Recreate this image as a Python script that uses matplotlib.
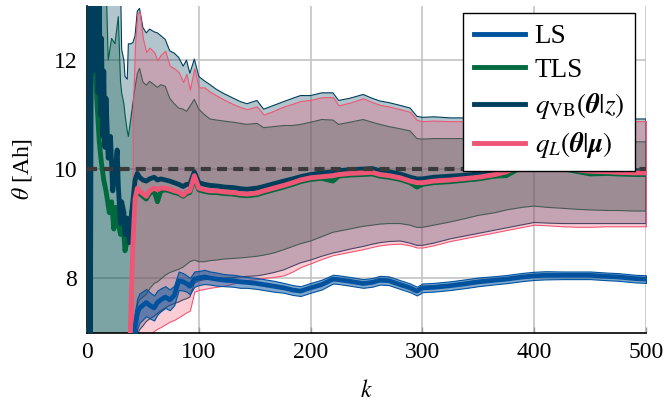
import numpy as np
import matplotlib
matplotlib.use("Agg")
import matplotlib.pyplot as plt
from matplotlib.lines import Line2D

plt.rcParams['font.family'] = ['Liberation Serif', 'DejaVu Serif']
plt.rcParams['mathtext.fontset'] = 'stix'
plt.rcParams['font.size'] = 17

c_ls = '#00529f'
c_tls = '#00693e'
c_vb = '#003f5c'
c_l = '#ef5675'

# shared grid for k >= 41
k_late = [41, 43, 45, 47, 50, 53, 56, 60, 63, 66, 70, 74, 78, 82, 86, 89, 92, 96, 100, 105,
          110, 116, 123, 131, 137, 143, 152, 158, 167, 176, 184, 191, 200, 210, 220, 225, 235, 247, 255, 262,
          270, 280, 289, 295, 300, 310, 325, 340, 350, 365, 375, 390, 400, 410, 425, 440, 450, 465, 475, 490, 500]

vb_hi = [12.32, 12.45, 12.9, 12.95, 12.6, 12.5, 12.57, 12.52, 12.5, 12.45, 12.38, 12.17, 12.13, 12.05, 11.89, 12.0, 11.76, 12.02, 11.7, 11.62,
         11.55, 11.46, 11.38, 11.3, 11.24, 11.2, 11.26, 11.1, 11.17, 11.24, 11.3, 11.35, 11.35, 11.4, 11.4, 11.26, 11.3, 11.37, 11.3, 11.25,
         11.22, 11.17, 11.12, 10.97, 10.95, 10.96, 10.94, 10.94, 10.95, 10.96, 10.98, 11.0, 11.02, 11.0, 10.97, 10.95, 10.94, 10.93, 10.93, 10.92, 10.92]
vb_lo = [6.5, 6.8, 6.95, 7.05, 7.12, 7.2, 7.25, 7.3, 7.35, 7.4, 7.45, 7.5, 7.53, 7.56, 7.6, 7.62, 7.65, 7.9, 7.95, 7.97,
         7.98, 8.0, 8.0, 8.01, 8.02, 8.03, 8.04, 8.06, 8.1, 8.15, 8.22, 8.28, 8.33, 8.4, 8.46, 8.48, 8.53, 8.58, 8.62, 8.65,
         8.67, 8.68, 8.64, 8.6, 8.6, 8.64, 8.72, 8.78, 8.82, 8.88, 8.92, 8.98, 9.02, 9.01, 9.0, 9.0, 9.0, 9.0, 9.0, 9.0, 9.0]
vb_mean = [9.4, 9.8, 9.92, 9.85, 9.8, 9.78, 9.82, 9.85, 9.8, 9.82, 9.8, 9.78, 9.75, 9.72, 9.68, 9.72, 9.72, 9.95, 9.75, 9.72,
           9.7, 9.69, 9.67, 9.66, 9.64, 9.63, 9.65, 9.68, 9.73, 9.78, 9.82, 9.86, 9.9, 9.93, 9.95, 9.97, 9.99, 10.0, 10.01, 9.97,
           9.95, 9.91, 9.85, 9.82, 9.82, 9.85, 9.87, 9.89, 9.91, 9.96, 10.01, 10.14, 10.18, 10.16, 10.11, 10.07, 10.05, 10.02, 10.0, 9.97, 9.96]

l_hi = [11.1, 12.3, 12.85, 12.9, 12.4, 12.15, 12.23, 12.15, 12.0, 12.1, 12.17, 11.9, 11.85, 11.78, 11.6, 11.75, 11.46, 11.85, 11.5, 11.5,
        11.42, 11.35, 11.27, 11.19, 11.14, 11.1, 11.15, 11.0, 11.07, 11.15, 11.2, 11.25, 11.27, 11.32, 11.32, 11.17, 11.22, 11.3, 11.23, 11.18,
        11.15, 11.1, 11.05, 10.9, 10.88, 10.89, 10.88, 10.88, 10.89, 10.9, 10.92, 10.94, 10.96, 10.94, 10.91, 10.89, 10.88, 10.88, 10.88, 10.88, 10.88]
l_lo = [6.0, 6.3, 6.5, 6.65, 6.8, 6.9, 6.95, 7.03, 7.07, 7.1, 7.15, 7.2, 7.23, 7.28, 7.33, 7.37, 7.4, 7.75, 7.78, 7.8,
        7.82, 7.84, 7.86, 7.9, 7.93, 7.96, 7.98, 8.0, 8.02, 8.05, 8.12, 8.2, 8.27, 8.35, 8.42, 8.44, 8.48, 8.53, 8.57, 8.6,
        8.62, 8.63, 8.6, 8.56, 8.56, 8.6, 8.68, 8.74, 8.78, 8.84, 8.88, 8.94, 8.98, 8.97, 8.95, 8.94, 8.94, 8.95, 8.95, 8.95, 8.95]
l_mean = [8.6, 9.45, 9.65, 9.6, 9.55, 9.5, 9.6, 9.65, 9.62, 9.65, 9.65, 9.63, 9.6, 9.58, 9.52, 9.58, 9.6, 9.88, 9.65, 9.62,
          9.6, 9.6, 9.58, 9.57, 9.55, 9.54, 9.56, 9.6, 9.65, 9.7, 9.75, 9.8, 9.84, 9.86, 9.88, 9.9, 9.92, 9.93, 9.94, 9.9,
          9.88, 9.84, 9.78, 9.75, 9.75, 9.78, 9.8, 9.83, 9.85, 9.9, 9.95, 10.08, 10.12, 10.1, 10.04, 9.98, 9.96, 9.95, 9.94, 9.93, 9.93]

tls_hi = [11.2, 11.5, 11.75, 11.85, 11.6, 11.54, 11.61, 11.55, 11.5, 11.55, 11.52, 11.3, 11.2, 11.12, 11.1, 11.06, 11.15, 11.28, 11.1, 11.0,
          10.92, 10.9, 10.88, 10.86, 10.84, 10.82, 10.84, 10.76, 10.78, 10.8, 10.8, 10.82, 10.86, 10.91, 10.9, 10.82, 10.86, 10.91, 10.86, 10.82,
          10.78, 10.74, 10.7, 10.56, 10.55, 10.56, 10.56, 10.56, 10.57, 10.59, 10.61, 10.63, 10.66, 10.63, 10.58, 10.55, 10.53, 10.52, 10.51, 10.5, 10.5]
tls_lo = [6.5, 7.2, 7.5, 7.6, 7.65, 7.7, 7.8, 7.9, 7.93, 7.98, 8.05, 8.1, 8.13, 8.16, 8.2, 8.25, 8.3, 8.33, 8.3, 8.3,
          8.32, 8.33, 8.35, 8.36, 8.37, 8.38, 8.4, 8.42, 8.46, 8.52, 8.58, 8.63, 8.68, 8.76, 8.84, 8.86, 8.9, 8.95, 8.97, 8.99,
          9.0, 9.0, 8.97, 8.93, 8.93, 8.97, 9.03, 9.1, 9.15, 9.2, 9.25, 9.3, 9.32, 9.3, 9.28, 9.26, 9.25, 9.24, 9.24, 9.23, 9.23]
tls_mean = [9.3, 9.5, 9.6, 9.55, 9.5, 9.45, 9.55, 9.6, 9.4, 9.6, 9.62, 9.6, 9.57, 9.55, 9.5, 9.55, 9.57, 9.84, 9.62, 9.59,
            9.57, 9.57, 9.55, 9.54, 9.52, 9.51, 9.53, 9.57, 9.62, 9.67, 9.72, 9.77, 9.81, 9.83, 9.78, 9.87, 9.89, 9.9, 9.91, 9.87,
            9.85, 9.81, 9.75, 9.67, 9.72, 9.75, 9.77, 9.8, 9.82, 9.87, 9.88, 10.05, 10.09, 10.07, 10.01, 9.95, 9.91, 9.92, 9.91, 9.9, 9.9]

ls_mean = [6.6, 7.1, 7.35, 7.45, 7.5, 7.55, 7.5, 7.45, 7.55, 7.6, 7.65, 7.6, 7.68, 7.95, 7.93, 7.9, 7.85, 7.98, 8.0, 8.02,
           8.0, 7.98, 7.96, 7.95, 7.93, 7.92, 7.9, 7.88, 7.85, 7.82, 7.78, 7.76, 7.82, 7.88, 7.98, 7.97, 7.94, 7.9, 7.92, 7.96,
           7.95, 7.88, 7.82, 7.76, 7.82, 7.83, 7.86, 7.9, 7.93, 7.96, 7.98, 8.02, 8.04, 8.05, 8.05, 8.05, 8.05, 8.03, 8.02, 7.99, 7.98]
ls_hw = [0.35, 0.3, 0.28, 0.27, 0.26, 0.25, 0.24, 0.23, 0.22, 0.21, 0.2, 0.19, 0.18, 0.17, 0.16, 0.15, 0.15, 0.14, 0.13, 0.13,
         0.12, 0.12, 0.11, 0.11, 0.11, 0.1, 0.1, 0.1, 0.1, 0.09, 0.09, 0.09, 0.09, 0.09, 0.08, 0.08, 0.08, 0.08, 0.08, 0.08,
         0.08, 0.08, 0.08, 0.08, 0.08, 0.08, 0.08, 0.08, 0.08, 0.075, 0.075, 0.075, 0.075, 0.075, 0.07, 0.07, 0.07, 0.07, 0.07, 0.07, 0.07]

# early part (k < 41), before q_L exists
k_eb = [0, 17, 19, 22, 25, 28, 30, 31, 33, 34, 36, 37, 39]
vb_hi_e = [13.5, 13.5, 13.5, 13.5, 13.5, 13.5, 13.5, 12.2, 12.0, 11.7, 11.65, 12.3, 12.3]
vb_lo_e = [6.0, 6.0, 6.0, 6.0, 6.0, 6.0, 6.0, 6.0, 6.0, 6.0, 6.0, 6.0, 6.0]
tls_hi_e = [13.5, 13.5, 12.0, 12.4, 12.3, 12.8, 11.6, 11.4, 11.2, 11.0, 10.7, 10.6, 10.9]
tls_lo_e = [6.0, 6.0, 6.0, 6.0, 6.0, 6.0, 6.0, 6.0, 6.0, 6.0, 6.0, 6.0, 6.0]

k_evb = [0, 1, 3, 4, 5, 6, 7, 8, 9, 10, 11, 12, 13, 14, 15, 16, 17, 19, 21, 23, 25, 27, 28, 30, 31, 33, 34, 36, 38, 40]
vb_mean_e = [6.2, 13.8, 6.5, 13.8, 13.6, 12.2, 13.5, 11.8, 13.4, 11.4, 13.2, 11.0, 12.4, 10.6, 11.8, 10.4, 11.3, 10.2, 10.6, 9.6, 9.9,
             10.35, 9.7, 9.0, 9.4, 9.2, 8.8, 9.1, 8.65, 9.2]
k_etls = [0, 2, 5, 7, 9, 11, 13, 15, 17, 20, 22, 24, 26, 28, 30, 32, 34, 36, 38, 40]
tls_mean_e = [14.0, 13.5, 12.3, 12.0, 11.2, 10.5, 10.1, 9.8, 9.6, 9.2, 9.4, 8.9, 9.3, 9.0, 8.8, 9.1, 8.5, 8.7, 8.8, 9.2]
k_els = [0, 1, 40]
ls_mean_e = [13.5, 5.0, 5.0]
k_el = [38, 40]
l_mean_e = [6.5, 7.9]

theta_true = 10.0

fig = plt.figure(figsize=(6.64, 4.05), dpi=100)
ax = fig.add_axes([0.131, 0.179, 0.842, 0.807])


def band(k, lo, hi, color, z):
    ax.fill_between(k, lo, hi, facecolor=matplotlib.colors.to_rgba(color, 0.3),
                    edgecolor=color, linewidth=0.8, zorder=z)


band(k_eb + k_late, tls_lo_e + tls_lo, tls_hi_e + tls_hi, c_tls, 1.0)
band(k_eb + k_late, vb_lo_e + vb_lo, vb_hi_e + vb_hi, c_vb, 1.1)
band(k_late, l_lo, l_hi, c_l, 1.2)

ls_m = np.array(ls_mean)
ls_w = np.array(ls_hw)
ax.fill_between(k_late, ls_m - ls_w, ls_m + ls_w, facecolor=matplotlib.colors.to_rgba(c_ls, 0.5),
                edgecolor=c_ls, linewidth=0.8, zorder=3)
ax.plot(k_els + k_late, ls_mean_e + ls_mean, color=c_ls, lw=3.4, zorder=3.1)
ax.plot(k_etls + k_late, tls_mean_e + tls_mean, color=c_tls, lw=3.5, zorder=3.2)
ax.plot(k_evb + k_late, vb_mean_e + vb_mean, color=c_vb, lw=3.5, zorder=3.3)
ax.plot(k_el + k_late, l_mean_e + l_mean, color=c_l, lw=3.5, zorder=3.4)

ax.axhline(theta_true, color='#3a3a3a', lw=3, ls=(0, (2.4, 1.5)), zorder=4)

ax.set_xlim(0, 500)
ax.set_ylim(7, 13)
ax.set_xticks([0, 100, 200, 300, 400, 500])
ax.set_yticks([8, 10, 12])
ax.grid(True, color='#c4c4c4', lw=1.2, zorder=0)
ax.set_axisbelow(True)
for s in ['top', 'right']:
    ax.spines[s].set_visible(False)
ax.spines['left'].set_zorder(0.5)
ax.spines['bottom'].set_linewidth(1.2)
ax.spines['left'].set_linewidth(1.2)
ax.tick_params(direction='in', length=4, width=1, color='#999999', labelsize=17, pad=7)
ax.set_xlabel('$k$', labelpad=12)
ax.set_ylabel(r'$\theta$ [Ah]', labelpad=14)

handles = [Line2D([], [], color=c_ls, lw=3.5),
           Line2D([], [], color=c_tls, lw=3.5),
           Line2D([], [], color=c_vb, lw=3.5),
           Line2D([], [], color=c_l, lw=3.5)]
labels = ['LS', 'TLS', r'$q_{\mathrm{VB}}(\mathbfit{\theta}|z)$', r'$q_L(\mathbfit{\theta}|\mathbfit{\mu})$']
leg = ax.legend(handles, labels, loc='upper right', bbox_to_anchor=(0.98, 0.977), borderaxespad=0,
                fancybox=False, framealpha=1, edgecolor='black', handlelength=1.9, handletextpad=0.35,
                labelspacing=0.32, borderpad=0.4, fontsize=19.5)
leg.get_frame().set_linewidth(1.0)
leg.set_zorder(10)

fig.savefig('out.png', dpi=100)
